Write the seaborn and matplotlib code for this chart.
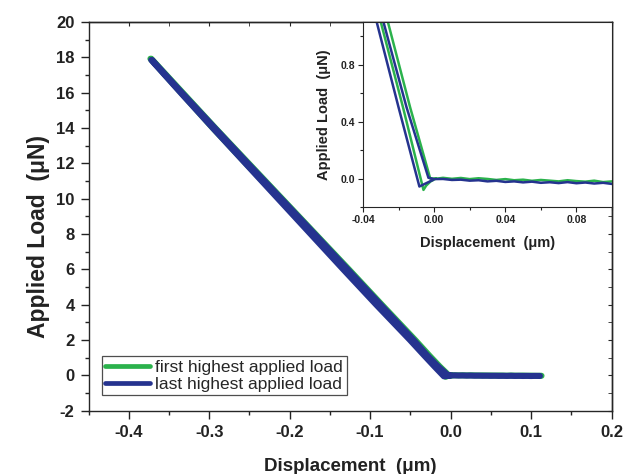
import matplotlib
matplotlib.use("Agg")
import matplotlib.pyplot as plt
import pandas as pd
import seaborn as sns
from matplotlib.ticker import MultipleLocator

# First highest applied load: approach along the flat, loading branch, unloading branch
first_flat_x = [0.113, 0.105, 0.100, 0.095, 0.090, 0.085, 0.080, 0.075, 0.070, 0.065, 0.060,
                0.055, 0.050, 0.045, 0.040, 0.035, 0.030, 0.025, 0.020, 0.015, 0.010, 0.005,
                0.002, -0.002]
first_flat_y = [-0.025, -0.030, -0.020, -0.025, -0.015, -0.022, -0.018, -0.012, -0.020, -0.015,
                -0.010, -0.016, -0.008, -0.012, -0.004, -0.010, -0.003, 0.002, -0.004, 0.004,
                -0.002, 0.005, 0.000, 0.000]
first_load_x = [-0.0022, -0.0135, -0.026, -0.044, -0.0855, -0.1265, -0.168, -0.2095, -0.251,
                -0.2925, -0.333, -0.372]
first_load_y = [0.0, 0.5, 1.1, 2, 4, 6, 8, 10, 12, 14, 16, 17.92]
first_unload_x = [-0.373, -0.335, -0.2955, -0.2545, -0.213, -0.1715, -0.130, -0.089, -0.0475,
                  -0.0300, -0.0175, -0.0060, -0.0045, -0.0020, 0.0010]
first_unload_y = [17.92, 16, 14, 12, 10, 8, 6, 4, 2, 1.1, 0.5, -0.08, -0.05, -0.02, 0.0]

# Last highest applied load
last_flat_x = [0.111, 0.105, 0.100, 0.095, 0.090, 0.085, 0.080, 0.075, 0.070, 0.065, 0.060,
               0.055, 0.050, 0.045, 0.040, 0.035, 0.030, 0.025, 0.020, 0.015, 0.010, 0.005,
               0.000, -0.003]
last_flat_y = [-0.035, -0.030, -0.038, -0.030, -0.035, -0.028, -0.033, -0.025, -0.032, -0.026,
               -0.030, -0.022, -0.027, -0.020, -0.024, -0.016, -0.020, -0.012, -0.015, -0.008,
               -0.010, -0.003, -0.004, 0.005]
last_load_x = [-0.0032, -0.0155, -0.0285, -0.046, -0.087, -0.128, -0.169, -0.2105, -0.252,
               -0.293, -0.334, -0.371]
last_load_y = [0.005, 0.5, 1.1, 2, 4, 6, 8, 10, 12, 14, 16, 17.85]
last_unload_x = [-0.372, -0.3355, -0.2955, -0.255, -0.2145, -0.174, -0.1335, -0.0925, -0.0505,
                 -0.0323, -0.0200, -0.0083, -0.0040, -0.0006]
last_unload_y = [17.85, 16, 14, 12, 10, 8, 6, 4, 2, 1.1, 0.5, -0.056, -0.03, -0.01]

series_names = ["first highest applied load", "last highest applied load"]
series_colors = ["#2bb24c", "#25338f"]

main_xticks = [-0.4, -0.3, -0.2, -0.1, 0.0, 0.1, 0.2]
main_yticks = [-2, 0, 2, 4, 6, 8, 10, 12, 14, 16, 18, 20]
inset_xticks = [-0.04, 0.00, 0.04, 0.08]
inset_yticks = [0.0, 0.4, 0.8]


def build_frame():
    parts = []
    for name, xs, ys in [
        (series_names[0], first_flat_x + first_load_x + first_unload_x,
         first_flat_y + first_load_y + first_unload_y),
        (series_names[1], last_flat_x + last_load_x + last_unload_x,
         last_flat_y + last_load_y + last_unload_y),
    ]:
        parts.append(pd.DataFrame({"disp": xs, "load": ys, "test": name}))
    return pd.concat(parts, ignore_index=True)


df = build_frame()
palette = dict(zip(series_names, series_colors))

sns.set_style("ticks")
plt.rcParams["font.family"] = ["Liberation Sans", "DejaVu Sans"]
plt.rcParams["axes.linewidth"] = 1.0

fig = plt.figure(figsize=(6.25, 4.74), dpi=100)
ax = fig.add_axes([0.1416, 0.1336, 0.8368, 0.82])

sns.lineplot(data=df, x="disp", y="load", hue="test", palette=palette, sort=False,
             estimator=None, units="test", lw=4.4, ax=ax, legend=False,
             solid_capstyle="round")

ax.set_xlim(-0.45, 0.2)
ax.set_ylim(-2, 20)
ax.set_xticks(main_xticks)
ax.set_xticklabels([f"{v:.1f}" for v in main_xticks])
ax.set_yticks(main_yticks)
ax.set_yticklabels([str(v) for v in main_yticks])
ax.xaxis.set_minor_locator(MultipleLocator(0.05))
ax.yaxis.set_minor_locator(MultipleLocator(1))
ax.tick_params(which="major", direction="out", length=6, width=1, labelsize=12,
               colors="#222222", pad=4)
ax.tick_params(which="minor", direction="out", length=3.2, width=1, colors="#222222")
for lab in ax.get_xticklabels() + ax.get_yticklabels():
    lab.set_fontweight("bold")
    lab.set_color("#222222")
ax.set_xlabel("Displacement  (μm)", fontsize=13.5, fontweight="bold", color="#222222",
              labelpad=13)
ax.set_ylabel("Applied Load  (μN)", fontsize=16.5, fontweight="bold", color="#222222")
ax.yaxis.set_label_coords(-0.074, 0.449)

# mirrored ticks on the top and right edges, pointing inward
top = ax.secondary_xaxis("top")
top.set_xticks(main_xticks)
top.xaxis.set_minor_locator(MultipleLocator(0.05))
top.tick_params(which="both", direction="in", length=3, labeltop=False)
right = ax.secondary_yaxis("right")
right.set_yticks(main_yticks)
right.yaxis.set_minor_locator(MultipleLocator(1))
right.tick_params(which="both", direction="in", length=3, labelright=False)

handles = [plt.Line2D([], [], color=c, lw=3.4) for c in series_colors]
leg = ax.legend(handles, series_names, loc="lower left", bbox_to_anchor=(0.025, 0.04),
                borderaxespad=0, fontsize=12.5, frameon=True, fancybox=False,
                edgecolor="#222222", handlelength=2.6, handletextpad=0.3,
                borderpad=0.2, labelspacing=0.1)
leg.get_frame().set_linewidth(0.9)

# zoomed view of the contact point
ins = fig.add_axes([0.5808, 0.5633, 0.3984, 0.3903])
sns.lineplot(data=df, x="disp", y="load", hue="test", palette=palette, sort=False,
             estimator=None, units="test", lw=1.8, ax=ins, legend=False)
ins.set_xlim(-0.04, 0.10)
ins.set_ylim(-0.2, 1.1)
ins.set_xticks(inset_xticks)
ins.set_xticklabels([f"{v:.2f}" for v in inset_xticks])
ins.set_yticks(inset_yticks)
ins.set_yticklabels([f"{v:.1f}" for v in inset_yticks])
ins.xaxis.set_minor_locator(MultipleLocator(0.02))
ins.yaxis.set_minor_locator(MultipleLocator(0.2))
ins.tick_params(which="major", direction="out", length=3.5, width=0.8, labelsize=7.5,
                colors="#222222", pad=2)
ins.tick_params(which="minor", direction="out", length=2, width=0.8, colors="#222222")
for lab in ins.get_xticklabels() + ins.get_yticklabels():
    lab.set_fontweight("bold")
for sp in ins.spines.values():
    sp.set_linewidth(0.8)
ins.set_xlabel("Displacement  (μm)", fontsize=10.5, fontweight="bold", color="#222222",
               labelpad=8)
ins.set_ylabel("Applied Load  (μN)", fontsize=10.5, fontweight="bold", color="#222222",
               labelpad=7)

fig.savefig("out.png", dpi=100)
